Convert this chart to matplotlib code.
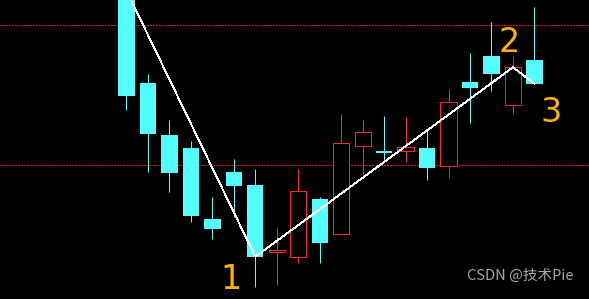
import matplotlib
matplotlib.use("Agg")
import matplotlib.pyplot as plt
from matplotlib.patches import Rectangle

# Candle data (price units)
opens  = [309.3, 217.0, 165.0, 152.0, 81.0, 128.0, 115.0, 47.7, 43.3, 101.0,
          65.7, 153.7, 149.0, 148.7, 152.0, 133.7, 218.0, 244.0, 194.7, 240.0]
highs  = [315.0, 226.0, 180.0, 159.0, 103.0, 141.0, 131.0, 72.0, 131.0, 103.0,
          186.0, 180.0, 184.0, 183.0, 170.7, 211.0, 247.0, 278.0, 244.0, 293.0]
lows   = [190.0, 128.3, 108.3, 78.3, 61.3, 83.3, 13.3, 15.0, 37.3, 37.3,
          65.7, 124.3, 138.3, 138.3, 120.3, 122.3, 177.3, 209.3, 186.3, 216.3]
closes = [204.3, 166.3, 127.3, 84.3, 71.3, 114.3, 43.3, 50.0, 108.7, 57.3,
          156.7, 167.7, 147.0, 152.7, 132.3, 197.7, 212.3, 226.3, 232.7, 216.3]

# Zigzag line points (candle index, price)
zig_idx = [0, 6, 18, 19]
zig_val = [309.3, 43.3, 232.7, 216.3]

# Horizontal reference levels
levels = [275.0, 135.0]

# Labels
labels = ["1", "2", "3"]
label_x = [4.88, 17.83, 19.78]
label_y = [20.5, 257.5, 187.0]

UP = "#ff2828"
DOWN = "#54ffff"
LW = 0.72

fig = plt.figure(figsize=(5.89, 2.99), dpi=100, facecolor="black")
ax = fig.add_axes([0, 0, 1, 1])
ax.set_facecolor("black")
x0 = 126.5
step = 21.47
ax.set_xlim(-x0 / step, (589 - x0) / step)
ax.set_ylim(1, 300)
ax.axis("off")

for lv in levels:
    ax.axhline(lv, color="#d01020", lw=LW, linestyle=(0, (2, 2)),
               antialiased=False)

bw = 0.76
for i, (o, h, l, c) in enumerate(zip(opens, highs, lows, closes)):
    top = max(o, c)
    bot = min(o, c)
    if c >= o:
        ax.plot([i, i], [top, h], color=UP, lw=LW, solid_capstyle="butt", snap=True)
        ax.plot([i, i], [l, bot], color=UP, lw=LW, solid_capstyle="butt", snap=True)
        ax.add_patch(Rectangle((i - bw / 2, bot), bw, top - bot, facecolor="black",
                               edgecolor=UP, lw=LW, zorder=3, snap=True))
    else:
        ax.plot([i, i], [l, h], color=DOWN, lw=LW, solid_capstyle="butt", zorder=2,
                snap=True)
        ax.add_patch(Rectangle((i - bw / 2, bot), bw, max(top - bot, 2), facecolor=DOWN,
                               edgecolor="none", lw=0, zorder=3, snap=True))

ax.plot(zig_idx, zig_val, color="white", lw=0.6, zorder=4, antialiased=False)

for t, lx, ly in zip(labels, label_x, label_y):
    ax.text(lx, ly, t, color="#ffb000", fontsize=24, ha="center", va="center",
            family="DejaVu Sans", zorder=5)

fig.text(0.974, 0.055, "CSDN @技术Pie", color="#a8a8a8", fontsize=10.5,
         ha="right", va="bottom", family=["Noto Sans CJK SC", "DejaVu Sans"])

fig.savefig("out.png", dpi=100, facecolor="black")
